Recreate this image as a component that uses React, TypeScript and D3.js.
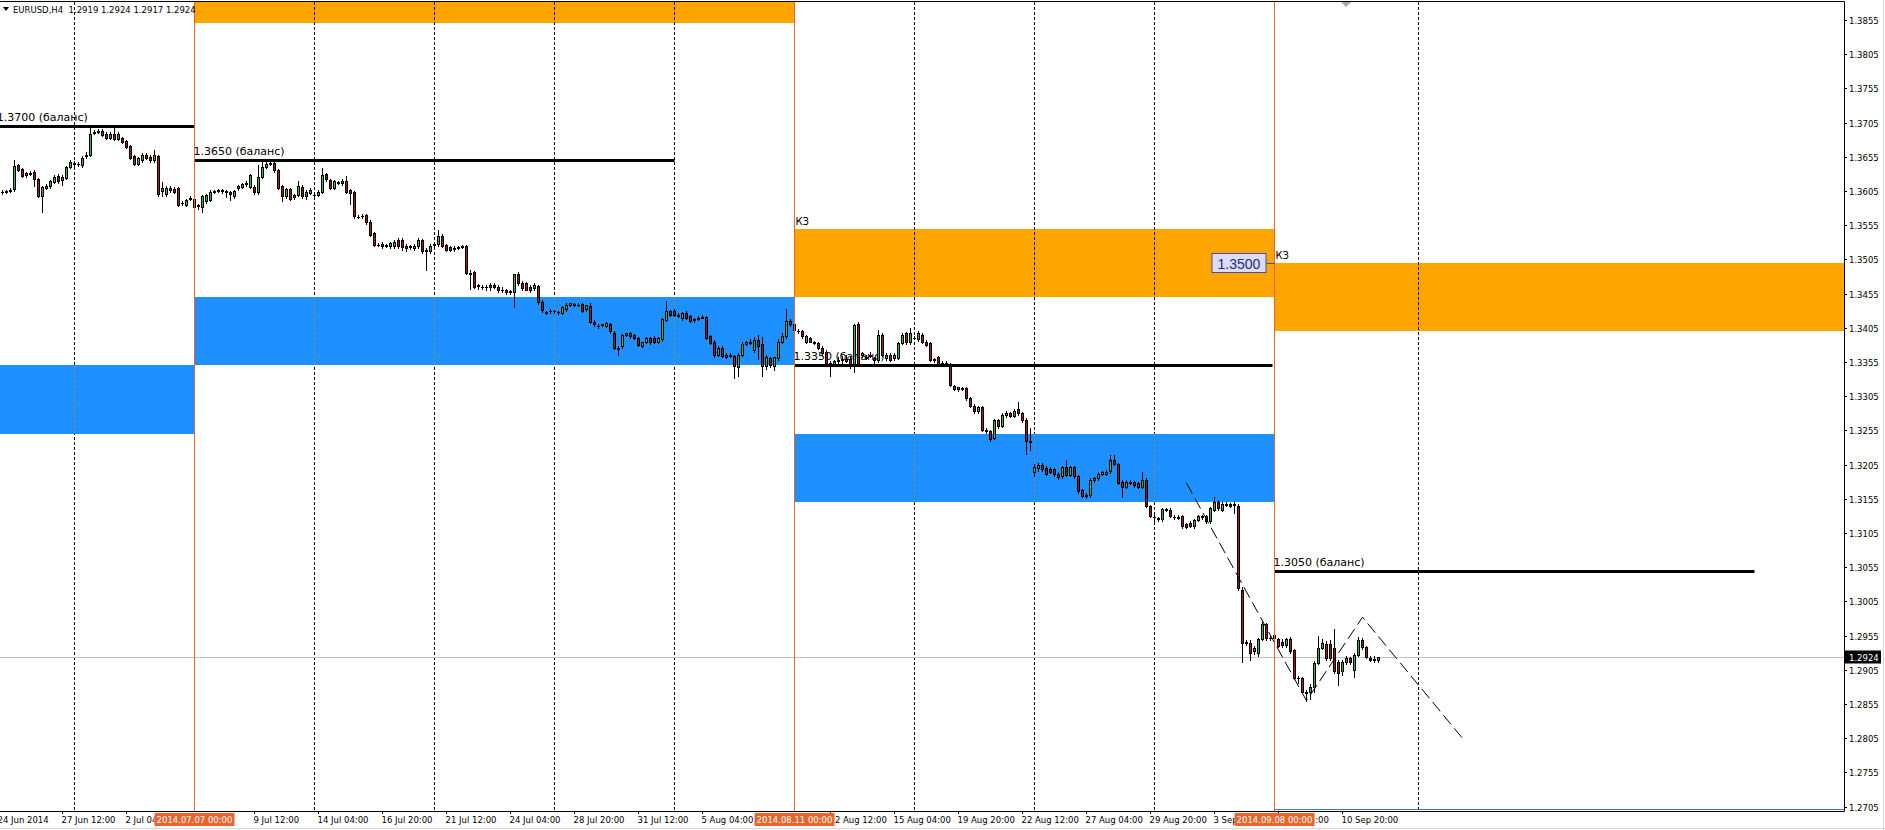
import React, { useEffect, useRef } from 'react';
import * as d3 from 'd3';

// размеры окна графика (MT4, EURUSD H4)
const width = 1885;
const height = 830;
const plotRight = 1844;
const plotBottom = 811;

// Бары H4: индекс 0 = 2014.07.07 00:00, цены в пунктах (13604 = 1.3604)
// [open, high, low, close]
const week0624 = [
  [13603, 13606, 13601, 13604], [13604, 13607, 13602, 13605], [13605, 13609, 13603, 13607],
  [13608, 13650, 13605, 13641], [13643, 13645, 13634, 13636], [13637, 13639, 13625, 13627],
  [13628, 13633, 13626, 13631], [13631, 13634, 13629, 13630], [13633, 13635, 13612, 13623],
  [13622, 13624, 13596, 13597], [13597, 13613, 13575, 13611], [13610, 13615, 13608, 13613],
  [13612, 13621, 13610, 13619], [13618, 13628, 13616, 13626], [13627, 13630, 13617, 13620],
  [13621, 13628, 13614, 13626], [13624, 13642, 13622, 13640], [13640, 13650, 13638, 13648],
];
const week0630 = [
  [13646, 13649, 13641, 13644], [13644, 13647, 13642, 13645], [13643, 13656, 13640, 13654],
  [13656, 13662, 13654, 13658], [13658, 13698, 13656, 13689], [13690, 13694, 13688, 13691],
  [13692, 13695, 13690, 13693], [13693, 13695, 13685, 13687], [13689, 13691, 13681, 13683],
  [13683, 13691, 13681, 13689], [13689, 13697, 13679, 13681], [13681, 13691, 13679, 13689],
  [13682, 13684, 13675, 13677], [13678, 13680, 13668, 13670], [13671, 13673, 13652, 13654],
  [13656, 13658, 13643, 13645], [13645, 13655, 13643, 13653], [13650, 13660, 13648, 13658],
  [13657, 13660, 13652, 13654], [13655, 13657, 13648, 13650], [13650, 13665, 13648, 13658],
  [13656, 13658, 13598, 13600], [13605, 13618, 13597, 13609], [13600, 13612, 13598, 13610],
  [13610, 13613, 13604, 13606], [13608, 13611, 13602, 13604], [13609, 13611, 13583, 13585],
  [13587, 13590, 13585, 13588], [13585, 13594, 13583, 13592], [13594, 13597, 13592, 13595],
];
const week0707 = [
  [13593, 13596, 13580, 13582], [13583, 13586, 13578, 13584], [13581, 13599, 13575, 13598],
  [13590, 13601, 13588, 13599], [13592, 13606, 13590, 13604], [13604, 13607, 13602, 13605],
  [13605, 13608, 13603, 13606], [13606, 13608, 13602, 13605], [13605, 13607, 13596, 13603],
  [13603, 13605, 13592, 13600], [13597, 13607, 13595, 13605], [13610, 13614, 13606, 13612],
  [13611, 13617, 13609, 13615], [13615, 13620, 13613, 13616], [13611, 13630, 13609, 13628],
  [13611, 13614, 13600, 13604], [13603, 13643, 13601, 13626], [13626, 13648, 13624, 13640],
  [13640, 13650, 13638, 13645], [13645, 13650, 13643, 13646], [13646, 13648, 13633, 13635],
  [13635, 13637, 13608, 13610], [13612, 13614, 13590, 13597], [13597, 13610, 13595, 13608],
  [13608, 13610, 13592, 13594], [13596, 13601, 13594, 13599], [13599, 13620, 13597, 13612],
  [13611, 13614, 13595, 13597], [13597, 13606, 13594, 13604], [13602, 13609, 13600, 13607],
];
const week0714 = [
  [13599, 13602, 13597, 13599], [13599, 13606, 13597, 13604], [13604, 13638, 13602, 13628],
  [13630, 13632, 13620, 13622], [13621, 13623, 13608, 13610], [13610, 13621, 13608, 13619],
  [13618, 13620, 13615, 13617], [13616, 13622, 13614, 13620], [13619, 13627, 13602, 13604],
  [13606, 13608, 13586, 13602], [13603, 13605, 13566, 13568], [13567, 13570, 13565, 13567],
  [13568, 13571, 13566, 13568], [13570, 13572, 13557, 13559], [13560, 13562, 13539, 13541],
  [13543, 13545, 13524, 13526], [13526, 13529, 13524, 13526], [13528, 13531, 13522, 13524],
  [13525, 13528, 13523, 13526], [13524, 13531, 13522, 13529], [13524, 13534, 13521, 13531],
  [13533, 13536, 13522, 13524], [13534, 13536, 13519, 13523], [13524, 13527, 13518, 13521],
  [13523, 13526, 13520, 13524], [13521, 13527, 13519, 13525], [13524, 13536, 13522, 13533],
  [13533, 13535, 13515, 13517], [13518, 13521, 13490, 13519], [13517, 13527, 13515, 13524],
];
const week0721 = [
  [13526, 13530, 13524, 13527], [13527, 13548, 13525, 13539], [13539, 13542, 13523, 13525],
  [13526, 13528, 13517, 13519], [13523, 13525, 13517, 13519], [13522, 13524, 13518, 13520],
  [13522, 13525, 13520, 13523], [13523, 13526, 13521, 13524], [13524, 13526, 13483, 13485],
  [13485, 13490, 13462, 13484], [13486, 13488, 13463, 13465], [13466, 13469, 13462, 13467],
  [13465, 13468, 13462, 13465], [13465, 13467, 13460, 13464], [13464, 13470, 13460, 13468],
  [13468, 13471, 13463, 13465], [13465, 13467, 13458, 13461], [13461, 13464, 13457, 13460],
  [13460, 13462, 13455, 13458], [13459, 13461, 13454, 13457], [13457, 13484, 13436, 13484],
  [13484, 13487, 13467, 13470], [13471, 13473, 13461, 13463], [13470, 13472, 13460, 13461],
  [13465, 13467, 13458, 13461], [13463, 13470, 13460, 13468], [13466, 13468, 13440, 13443],
  [13443, 13445, 13428, 13431], [13428, 13430, 13425, 13427], [13429, 13432, 13426, 13429],
];
const week0728 = [
  [13429, 13431, 13426, 13429], [13428, 13430, 13425, 13428], [13427, 13437, 13425, 13436],
  [13432, 13441, 13430, 13439], [13439, 13442, 13437, 13441], [13440, 13442, 13437, 13439],
  [13439, 13441, 13437, 13439], [13440, 13442, 13428, 13430], [13432, 13439, 13430, 13439],
  [13437, 13441, 13412, 13414], [13414, 13416, 13408, 13410], [13408, 13410, 13405, 13407],
  [13409, 13411, 13407, 13410], [13408, 13413, 13406, 13412], [13410, 13412, 13398, 13400],
  [13398, 13400, 13374, 13376], [13376, 13379, 13366, 13374], [13378, 13396, 13376, 13395],
  [13395, 13398, 13393, 13397], [13397, 13399, 13390, 13393], [13394, 13396, 13388, 13390],
  [13390, 13392, 13378, 13380], [13379, 13385, 13377, 13384], [13385, 13392, 13383, 13390],
  [13390, 13392, 13382, 13384], [13390, 13393, 13383, 13385], [13385, 13392, 13383, 13390],
  [13388, 13420, 13386, 13418], [13417, 13444, 13415, 13429], [13429, 13431, 13422, 13424],
];
const week0804 = [
  [13429, 13433, 13422, 13424], [13424, 13427, 13421, 13422], [13419, 13428, 13417, 13426],
  [13427, 13430, 13418, 13419], [13422, 13424, 13413, 13415], [13418, 13420, 13414, 13416],
  [13420, 13422, 13416, 13418], [13421, 13424, 13419, 13420], [13421, 13423, 13388, 13390],
  [13393, 13395, 13381, 13383], [13385, 13387, 13362, 13366], [13366, 13378, 13364, 13376],
  [13376, 13378, 13362, 13364], [13366, 13368, 13361, 13363], [13365, 13368, 13362, 13364],
  [13364, 13366, 13332, 13349], [13348, 13368, 13334, 13366], [13366, 13385, 13364, 13382],
  [13382, 13386, 13380, 13384], [13383, 13389, 13381, 13385], [13373, 13392, 13370, 13387],
  [13387, 13395, 13360, 13378], [13382, 13392, 13334, 13349], [13349, 13365, 13345, 13362],
  [13361, 13363, 13348, 13350], [13349, 13363, 13344, 13362], [13361, 13388, 13358, 13385],
  [13385, 13397, 13383, 13393], [13393, 13432, 13390, 13415], [13415, 13418, 13408, 13410],
];
const week0811 = [
  [13410, 13412, 13400, 13402], [13401, 13404, 13398, 13400], [13400, 13402, 13390, 13393],
  [13385, 13394, 13383, 13393], [13390, 13392, 13384, 13385], [13384, 13386, 13381, 13383],
  [13383, 13385, 13374, 13376], [13376, 13378, 13366, 13368], [13370, 13372, 13352, 13354],
  [13354, 13357, 13334, 13352], [13351, 13358, 13349, 13356], [13356, 13362, 13350, 13358],
  [13358, 13364, 13353, 13360], [13360, 13366, 13355, 13357], [13360, 13364, 13346, 13349],
  [13349, 13410, 13341, 13409], [13411, 13413, 13349, 13351], [13366, 13370, 13362, 13368],
  [13363, 13366, 13359, 13361], [13366, 13370, 13362, 13364], [13361, 13363, 13349, 13358],
  [13358, 13402, 13355, 13395], [13395, 13397, 13364, 13366], [13361, 13368, 13358, 13366],
  [13366, 13368, 13356, 13358], [13361, 13368, 13358, 13366], [13361, 13385, 13359, 13383],
  [13383, 13397, 13381, 13395], [13397, 13399, 13382, 13384], [13384, 13405, 13382, 13397],
];
const week0818 = [
  [13390, 13393, 13388, 13390], [13388, 13400, 13386, 13397], [13395, 13398, 13383, 13385],
  [13385, 13387, 13378, 13380], [13383, 13385, 13356, 13358], [13358, 13361, 13355, 13359],
  [13362, 13364, 13350, 13352], [13354, 13356, 13351, 13353], [13354, 13356, 13349, 13351],
  [13351, 13353, 13320, 13322], [13320, 13322, 13314, 13315], [13316, 13319, 13313, 13318],
  [13317, 13319, 13314, 13316], [13317, 13319, 13300, 13302], [13302, 13304, 13289, 13291],
  [13291, 13293, 13281, 13283], [13283, 13291, 13281, 13289], [13289, 13291, 13254, 13256],
  [13256, 13258, 13252, 13254], [13254, 13256, 13240, 13242], [13244, 13272, 13242, 13270],
  [13270, 13272, 13259, 13261], [13262, 13280, 13260, 13278], [13277, 13283, 13275, 13281],
  [13280, 13282, 13274, 13276], [13276, 13286, 13274, 13284], [13286, 13297, 13278, 13280],
  [13280, 13282, 13268, 13270], [13271, 13273, 13221, 13239], [13239, 13258, 13226, 13238],
];
const week0825 = [
  [13194, 13206, 13189, 13202], [13200, 13208, 13196, 13205], [13205, 13207, 13196, 13198],
  [13200, 13203, 13190, 13192], [13198, 13201, 13193, 13194], [13198, 13200, 13189, 13192],
  [13192, 13194, 13184, 13187], [13188, 13203, 13186, 13201], [13202, 13212, 13188, 13190],
  [13190, 13203, 13188, 13202], [13201, 13203, 13186, 13188], [13188, 13190, 13164, 13166],
  [13168, 13170, 13157, 13159], [13161, 13163, 13156, 13159], [13161, 13185, 13158, 13183],
  [13183, 13187, 13180, 13185], [13185, 13194, 13183, 13192], [13192, 13196, 13190, 13194],
  [13192, 13197, 13190, 13194], [13195, 13219, 13193, 13212], [13212, 13219, 13204, 13206],
  [13206, 13208, 13176, 13178], [13180, 13182, 13158, 13173], [13173, 13182, 13171, 13180],
  [13180, 13182, 13176, 13178], [13179, 13181, 13173, 13175], [13178, 13180, 13171, 13173],
  [13173, 13194, 13171, 13183], [13183, 13185, 13143, 13145], [13144, 13146, 13128, 13130],
];
const week0901 = [
  [13129, 13131, 13119, 13128], [13127, 13129, 13123, 13125], [13125, 13141, 13123, 13140],
  [13140, 13142, 13137, 13139], [13139, 13141, 13128, 13130], [13129, 13131, 13126, 13128],
  [13128, 13131, 13125, 13127], [13130, 13132, 13113, 13115], [13118, 13120, 13112, 13114],
  [13120, 13122, 13114, 13116], [13115, 13126, 13113, 13124], [13124, 13131, 13122, 13130],
  [13130, 13132, 13126, 13128], [13130, 13132, 13120, 13122], [13122, 13143, 13120, 13141],
  [13139, 13158, 13137, 13151], [13151, 13153, 13139, 13141], [13139, 13151, 13137, 13148],
  [13148, 13150, 13144, 13146], [13147, 13149, 13143, 13145], [13148, 13150, 13134, 13146],
  [13145, 13147, 13022, 13024], [13022, 13026, 12917, 12945], [12946, 12949, 12942, 12944],
  [12945, 12948, 12920, 12930], [12932, 12940, 12928, 12937], [12930, 12952, 12925, 12950],
  [12950, 12975, 12948, 12972], [12972, 12974, 12949, 12951], [12951, 12954, 12948, 12951],
];
const week0908 = [
  [12956, 12961, 12949, 12951], [12950, 12952, 12938, 12940], [12946, 12950, 12939, 12941],
  [12941, 12952, 12939, 12950], [12950, 12953, 12930, 12932], [12934, 12936, 12891, 12893],
  [12893, 12896, 12886, 12893], [12893, 12895, 12871, 12873], [12872, 12875, 12859, 12871],
  [12873, 12884, 12862, 12880], [12880, 12918, 12872, 12915], [12915, 12955, 12913, 12937],
  [12937, 12950, 12935, 12944], [12943, 12947, 12920, 12922], [12943, 12948, 12920, 12922],
  [12937, 12965, 12900, 12903], [12917, 12919, 12883, 12900], [12903, 12920, 12898, 12916],
  [12916, 12926, 12914, 12922], [12922, 12924, 12914, 12917], [12905, 12930, 12895, 12927],
  [12927, 12953, 12925, 12949], [12949, 12951, 12936, 12938], [12938, 12940, 12923, 12924],
  [12923, 12925, 12918, 12920], [12921, 12926, 12917, 12919], [12919, 12924, 12917, 12924],
];

const weeks = [
  { start: -48, bars: week0624 },
  { start: -30, bars: week0630 },
  { start: 0, bars: week0707 },
  { start: 30, bars: week0714 },
  { start: 60, bars: week0721 },
  { start: 90, bars: week0728 },
  { start: 120, bars: week0804 },
  { start: 150, bars: week0811 },
  { start: 180, bars: week0818 },
  { start: 210, bars: week0825 },
  { start: 240, bars: week0901 },
  { start: 270, bars: week0908 },
];

// шкала цен справа
const priceTicks = [
  1.3855, 1.3805, 1.3755, 1.3705, 1.3655, 1.3605, 1.3555, 1.3505, 1.3455, 1.3405, 1.3355, 1.3305,
  1.3255, 1.3205, 1.3155, 1.3105, 1.3055, 1.3005, 1.2955, 1.2905, 1.2855, 1.2805, 1.2755, 1.2705,
];

// подписи времени (индекс бара, текст)
const timeLabels = [
  { bar: -49, text: '24 Jun 2014' }, { bar: -33, text: '27 Jun 12:00' }, { bar: -17, text: '2 Jul 04:00' },
  { bar: 15, text: '9 Jul 12:00' }, { bar: 31, text: '14 Jul 04:00' }, { bar: 47, text: '16 Jul 20:00' },
  { bar: 63, text: '21 Jul 12:00' }, { bar: 79, text: '24 Jul 04:00' }, { bar: 95, text: '28 Jul 20:00' },
  { bar: 111, text: '31 Jul 12:00' }, { bar: 127, text: '5 Aug 04:00' }, { bar: 159, text: '12 Aug 12:00' },
  { bar: 175, text: '15 Aug 04:00' }, { bar: 191, text: '19 Aug 20:00' }, { bar: 207, text: '22 Aug 12:00' },
  { bar: 223, text: '27 Aug 04:00' }, { bar: 239, text: '29 Aug 20:00' }, { bar: 255, text: '3 Sep 12:00' },
  { bar: 271, text: '8 Sep 04:00' }, { bar: 287, text: '10 Sep 20:00' },
];

// недельная сетка
const gridBars = [-30, 0, 30, 60, 90, 120, 150, 180, 210, 240, 270, 306];

// вертикальные линии-разделители с подписью даты
const separators = [
  { bar: 0, text: '2014.07.07 00:00' },
  { bar: 150, text: '2014.08.11 00:00' },
  { bar: 270, text: '2014.09.08 00:00' },
];

// зоны (прямоугольники)
const zones = [
  { from: -50, to: 0, lo: 1.3250, hi: 1.3350, color: '#1E90FF' },
  { from: 0, to: 150, lo: 1.3850, hi: 1.3950, color: '#FFA500' },
  { from: 0, to: 150, lo: 1.3350, hi: 1.3450, color: '#1E90FF' },
  { from: 150, to: 270, lo: 1.3450, hi: 1.3550, color: '#FFA500' },
  { from: 150, to: 270, lo: 1.3150, hi: 1.3250, color: '#1E90FF' },
  { from: 270, to: 420, lo: 1.3400, hi: 1.3500, color: '#FFA500' },
];

// уровни баланса
const levels = [
  { from: -49.2, to: 0, price: 1.3700, label: '1.3700 (баланс)' },
  { from: 0, to: 120, price: 1.3650, label: '1.3650 (баланс)' },
  { from: 150, to: 269.5, price: 1.3350, label: '1.3350 (баланс)' },
  { from: 270, to: 390, price: 1.3050, label: '1.3050 (баланс)' },
];

// пометки КЗ у верхних зон
const zoneTags = [
  { bar: 150, price: 1.3550, text: 'КЗ' },
  { bar: 270, price: 1.3500, text: 'КЗ' },
];

// пунктирный зигзаг (бар, цена)
const zigzag = [
  [248, 1.3178], [278, 1.2860], [292, 1.2982], [317, 1.2805],
];

const bidPrice = 1.2924;
const priceLabel = { bar: 270, price: 1.3500, text: '1.3500' };
const header = 'EURUSD,H4  1.2919 1.2924 1.2917 1.2924';

const smallFont = '"DejaVu Sans", Verdana, sans-serif';

const App = () => {
  const svgRef = useRef(null);

  useEffect(() => {
    document.body.style.margin = '0';
    const svg = d3.select(svgRef.current);
    svg.selectAll('*').remove();

    const x = d3.scaleLinear().domain([0, 100]).range([194.5, 594.5]);
    const y = d3.scaleLinear().domain([1.2705, 1.3855]).range([806.7, 20]);

    svg.append('rect').attr('width', width).attr('height', height).attr('fill', '#fff');

    const clip = svg.append('defs').append('clipPath').attr('id', 'plot');
    clip.append('rect').attr('x', 0).attr('y', 2).attr('width', plotRight).attr('height', plotBottom - 2);

    const plot = svg.append('g').attr('clip-path', 'url(#plot)');

    // зоны
    plot.selectAll('rect.zone')
      .data(zones)
      .join('rect')
      .attr('class', 'zone')
      .attr('x', d => Math.round(x(d.from)))
      .attr('y', d => Math.round(y(d.hi)))
      .attr('width', d => Math.min(plotRight, Math.round(x(d.to))) - Math.round(x(d.from)))
      .attr('height', d => Math.round(y(d.lo)) - Math.round(y(d.hi)))
      .attr('fill', d => d.color);

    // сетка
    plot.selectAll('line.grid')
      .data(gridBars)
      .join('line')
      .attr('x1', d => x(d)).attr('x2', d => x(d))
      .attr('y1', 2).attr('y2', plotBottom)
      .attr('stroke', '#000')
      .attr('stroke-dasharray', '3,2');
    // поверх синих зон сетка выглядит серой
    zones.filter(z => z.color === '#1E90FF').forEach(z => {
      gridBars.filter(b => b > z.from && b < z.to).forEach(b => {
        plot.append('line')
          .attr('x1', x(b)).attr('x2', x(b))
          .attr('y1', Math.round(y(z.hi))).attr('y2', Math.round(y(z.lo)))
          .attr('stroke', '#1E90FF').attr('stroke-width', 1.2);
        plot.append('line')
          .attr('x1', x(b)).attr('x2', x(b))
          .attr('y1', Math.round(y(z.hi))).attr('y2', Math.round(y(z.lo)))
          .attr('stroke', '#8a8a8a')
          .attr('stroke-dasharray', '3,2');
      });
    });

    // линия Bid
    plot.append('line')
      .attr('x1', 0).attr('x2', plotRight)
      .attr('y1', Math.round(y(bidPrice)) + 0.5).attr('y2', Math.round(y(bidPrice)) + 0.5)
      .attr('stroke', '#c0c0c0');

    // подписи уровней (под свечами)
    plot.selectAll('text.level')
      .data(levels)
      .join('text')
      .attr('x', d => x(d.from) - 1)
      .attr('y', d => Math.round(y(d.price)) - 5)
      .style('font-family', smallFont)
      .style('font-size', '11px')
      .attr('fill', '#000')
      .text(d => d.label);

    plot.selectAll('text.tag')
      .data(zoneTags)
      .join('text')
      .attr('x', d => x(d.bar) + 1)
      .attr('y', d => Math.round(y(d.price)) - 4)
      .style('font-family', smallFont)
      .style('font-size', '10px')
      .attr('fill', '#000')
      .text(d => d.text);

    // свечи
    const candles = weeks.flatMap(w => w.bars.map((b, k) => ({
      i: w.start + k, o: b[0] / 1e4, h: b[1] / 1e4, l: b[2] / 1e4, c: b[3] / 1e4,
    })));
    const cg = plot.append('g').attr('shape-rendering', 'crispEdges');
    candles.forEach(d => {
      const cx = x(d.i);
      cg.append('line')
        .attr('x1', cx).attr('x2', cx)
        .attr('y1', Math.round(y(d.h))).attr('y2', Math.round(y(d.l)) + 1)
        .attr('stroke', '#000');
      const top = Math.round(y(Math.max(d.o, d.c)));
      const bot = Math.max(top + 1, Math.round(y(Math.min(d.o, d.c))) + 1);
      cg.append('rect')
        .attr('x', cx - 1.5).attr('y', top)
        .attr('width', 3).attr('height', bot - top)
        .attr('fill', '#000');
      if (bot - top > 2) {
        cg.append('rect')
          .attr('x', cx - 0.5).attr('y', top + 1)
          .attr('width', 1).attr('height', bot - top - 2)
          .attr('fill', d.c >= d.o ? '#3fae49' : '#a01818');
      }
    });

    // линии уровней
    plot.selectAll('line.level')
      .data(levels)
      .join('line')
      .attr('x1', d => x(d.from)).attr('x2', d => x(d.to))
      .attr('y1', d => Math.round(y(d.price)) + 0.5).attr('y2', d => Math.round(y(d.price)) + 0.5)
      .attr('stroke', '#000')
      .attr('stroke-width', 3);

    // разделители
    plot.selectAll('line.sep')
      .data(separators)
      .join('line')
      .attr('x1', d => x(d.bar)).attr('x2', d => x(d.bar))
      .attr('y1', 2).attr('y2', plotBottom)
      .attr('stroke', '#f0622a');

    // зигзаг
    const zz = d3.line().x(d => x(d[0])).y(d => y(d[1]));
    plot.append('path')
      .attr('d', zz(zigzag))
      .attr('fill', 'none')
      .attr('stroke', '#000')
      .attr('stroke-dasharray', '12,5');

    // ценовая метка 1.3500
    const py = Math.round(y(priceLabel.price)) + 0.5;
    const px = x(priceLabel.bar);
    plot.append('line')
      .attr('x1', px - 8).attr('x2', px).attr('y1', py).attr('y2', py)
      .attr('stroke', '#4b4bb0');
    plot.append('rect')
      .attr('x', px - 62.5).attr('y', py - 10)
      .attr('width', 54).attr('height', 19)
      .attr('fill', '#dcdcf4')
      .attr('stroke', '#4b4bb0');
    plot.append('text')
      .attr('x', px - 35.5).attr('y', py + 5)
      .attr('text-anchor', 'middle')
      .style('font-family', '"Liberation Sans", Arial, sans-serif')
      .style('font-size', '14px')
      .attr('fill', '#2a2a80')
      .text(priceLabel.text);

    // синяя полоса внизу справа
    svg.append('line')
      .attr('x1', x(270)).attr('x2', plotRight)
      .attr('y1', plotBottom - 1.5).attr('y2', plotBottom - 1.5)
      .attr('stroke', '#3a78c0');

    // рамка
    svg.append('line').attr('x1', 0).attr('x2', plotRight + 0.5).attr('y1', 1.5).attr('y2', 1.5).attr('stroke', '#000');
    svg.append('line').attr('x1', 0).attr('x2', plotRight + 0.5).attr('y1', plotBottom + 0.5).attr('y2', plotBottom + 0.5).attr('stroke', '#000');
    svg.append('line').attr('x1', plotRight + 0.5).attr('x2', plotRight + 0.5).attr('y1', 1.5).attr('y2', plotBottom + 0.5).attr('stroke', '#000');

    // шкала цен
    const axisG = svg.append('g');
    priceTicks.forEach(p => {
      const ty = Math.round(y(p)) + 0.5;
      axisG.append('line')
        .attr('x1', plotRight).attr('x2', plotRight + 3)
        .attr('y1', ty).attr('y2', ty)
        .attr('stroke', '#000');
      axisG.append('text')
        .attr('x', plotRight + 5).attr('y', ty + 3)
        .style('font-family', smallFont)
        .style('font-size', '8.5px')
        .attr('fill', '#000')
        .text(p.toFixed(4));
    });
    const by = Math.round(y(bidPrice)) + 0.5;
    axisG.append('rect')
      .attr('x', plotRight + 1).attr('y', by - 7)
      .attr('width', 36).attr('height', 13)
      .attr('fill', '#000');
    axisG.append('text')
      .attr('x', plotRight + 5).attr('y', by + 3)
      .style('font-family', smallFont)
      .style('font-size', '8.5px')
      .attr('fill', '#fff')
      .text(bidPrice.toFixed(4));

    // шкала времени
    const timeG = svg.append('g');
    timeLabels.forEach(t => {
      timeG.append('line')
        .attr('x1', x(t.bar)).attr('x2', x(t.bar))
        .attr('y1', plotBottom).attr('y2', plotBottom + 3)
        .attr('stroke', '#000');
      timeG.append('text')
        .attr('x', x(t.bar) - 1).attr('y', plotBottom + 12)
        .style('font-family', smallFont)
        .style('font-size', '8.5px')
        .attr('fill', '#000')
        .text(t.text);
    });
    separators.forEach(s => {
      timeG.append('rect')
        .attr('x', x(s.bar) - 40).attr('y', plotBottom + 2)
        .attr('width', 80).attr('height', 13)
        .attr('fill', '#f0622a');
      timeG.append('text')
        .attr('x', x(s.bar)).attr('y', plotBottom + 12)
        .attr('text-anchor', 'middle')
        .style('font-family', smallFont)
        .style('font-size', '8.5px')
        .attr('fill', '#fff')
        .text(s.text);
    });

    // заголовок
    svg.append('path')
      .attr('d', 'M3,7 L9,7 L6,11 Z')
      .attr('fill', '#000');
    svg.append('text')
      .attr('x', 13).attr('y', 13)
      .style('font-family', smallFont)
      .style('font-size', '8.5px')
      .attr('fill', '#000')
      .attr('xml:space', 'preserve')
      .text(header);

    // маркер смещения графика
    svg.append('path')
      .attr('d', 'M1341,2 L1351,2 L1346,7 Z')
      .attr('fill', '#a8a8a8');

    // серые края окна
    svg.append('line').attr('x1', 0).attr('x2', width).attr('y1', 828.5).attr('y2', 828.5).attr('stroke', '#d8d8d8');
    svg.append('line').attr('x1', 1883.5).attr('x2', 1883.5).attr('y1', 0).attr('y2', height).attr('stroke', '#d8d8d8');
  }, []);

  return (
    <svg ref={svgRef} width={width} height={height} style={{ display: 'block' }}></svg>
  );
};

export default App;
